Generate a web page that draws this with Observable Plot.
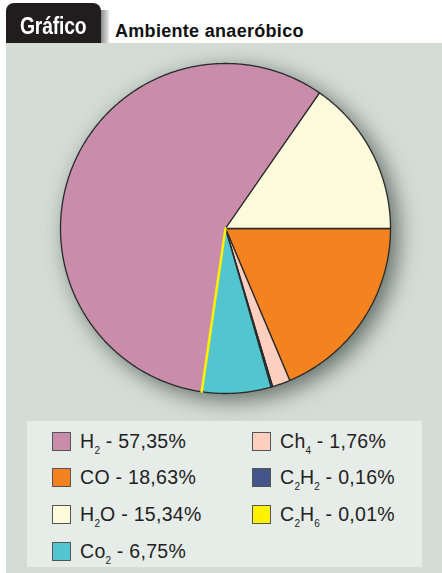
<!DOCTYPE html>
<html>
<head>
<meta charset="utf-8">
<script src="https://cdn.jsdelivr.net/npm/d3@7"></script>
<script src="https://cdn.jsdelivr.net/npm/@observablehq/plot@0.6"></script>
<style>
  html, body { margin: 0; padding: 0; background: #ffffff; }
  #root { position: relative; width: 442px; height: 573px; overflow: hidden; font-family: "Liberation Sans", Arial, Helvetica, sans-serif; }
  #tab { position: absolute; left: 6px; top: 3px; width: 95px; height: 40px; background: #211d1e; border-radius: 8px 8px 0 0; }
  #tabshade { position: absolute; left: 100px; top: 10px; width: 9px; height: 33px; background: linear-gradient(to right, #7d7f7e, #e8ebe9); }
  #tabtext { position: absolute; left: 20px; top: 12px; color: #ffffff; font-weight: bold; font-size: 23px; line-height: 28px; transform: scaleX(0.84); transform-origin: left top; letter-spacing: -0.2px; }
  #title { position: absolute; left: 115px; top: 21px; color: #111; font-weight: bold; font-size: 18px; line-height: 20px; letter-spacing: 0.3px; }
  #panel { position: absolute; left: 6px; top: 43px; width: 436px; height: 530px; background: #d3ddd6; }
  #chart { position: absolute; left: 0; top: 43px; }
  #chart svg { filter: drop-shadow(7px 6px 11px rgba(25,35,30,0.6)); }
  #legend { position: absolute; left: 27px; top: 421px; width: 395px; height: 146px; background: #e6ece8; }
  .item { position: absolute; height: 20px; font-size: 19.5px; line-height: 20px; color: #222; white-space: nowrap; }
  .sw { position: absolute; left: 0; top: 0; width: 17px; height: 17px; border: 1px solid #555; }
  .lbl { position: absolute; left: 28px; top: -1px; letter-spacing: 0.3px; }
  .lbl span.s { font-size: 10px; position: relative; top: 6px; letter-spacing: 0; }
</style>
</head>
<body>
<div id="root">
  <div id="panel"></div>
  <div id="chart"></div>
  <div id="tabshade"></div>
  <div id="tab"></div>
  <div id="tabtext">Gráfico</div>
  <div id="title">Ambiente anaeróbico</div>
  <div id="legend"></div>
</div>
<script>
// Data (slice order clockwise from 3 o'clock)
const names   = ["CO", "Ch4", "C2H2", "Co2", "C2H6", "H2", "H2O"];
const values  = [18.63, 1.76, 0.16, 6.75, 0.01, 57.35, 15.34];
const colors  = ["#f4821f", "#fccfbf", "#44558a", "#52c5cf", "#fff200", "#c98dab", "#fefadc"];
// Legend order and labels (HTML with subscripts)
const legendNames  = ["H2", "CO", "H2O", "Co2", "Ch4", "C2H2", "C2H6"];
const legendLabels = [
  "H<span class='s'>2</span> - 57,35%",
  "CO - 18,63%",
  "H<span class='s'>2</span>O - 15,34%",
  "Co<span class='s'>2</span> - 6,75%",
  "Ch<span class='s'>4</span> - 1,76%",
  "C<span class='s'>2</span>H<span class='s'>2</span> - 0,16%",
  "C<span class='s'>2</span>H<span class='s'>6</span> - 0,01%"
];

const table = names.map((n, i) => ({name: n, value: values[i]}));
const arcs = d3.pie().sort(null).value(d => d.value).startAngle(Math.PI / 2).endAngle(Math.PI / 2 + 2 * Math.PI)(table);

// Build outline points for each slice in unit coordinates
const pts = [];
for (const a of arcs) {
  const n = a.data.name;
  pts.push({name: n, x: 0, y: 0});
  const steps = Math.max(2, Math.ceil((a.endAngle - a.startAngle) / (Math.PI / 360)));
  for (let k = 0; k <= steps; k++) {
    const t = a.startAngle + (a.endAngle - a.startAngle) * k / steps;
    pts.push({name: n, x: Math.sin(t), y: Math.cos(t)});
  }
  pts.push({name: n, x: 0, y: 0});
}

const cx = 225, cy = 185, r = 165;
const plot = Plot.plot({
  width: 442,
  height: 378,
  margin: 0,
  style: {background: "transparent", overflow: "visible"},
  x: {domain: [-1, 1], range: [cx - r, cx + r], axis: null},
  y: {domain: [-1, 1], range: [cy + r, cy - r], axis: null},
  color: {domain: names, range: colors},
  marks: [
    Plot.line(pts.filter(d => d.name !== "C2H6"), {x: "x", y: "y", z: "name", fill: "name", stroke: "#2a2a2a", strokeWidth: 1.3, strokeLinejoin: "round"}),
    Plot.line(pts.filter(d => d.name === "C2H6"), {x: "x", y: "y", z: "name", fill: "name", stroke: "#fff200", strokeWidth: 2.5})
  ]
});
document.getElementById("chart").appendChild(plot);

// Legend
const legend = document.getElementById("legend");
const colX = [25, 225], rowY = [11, 47, 84, 121];
legendNames.forEach((n, i) => {
  const col = i < 4 ? 0 : 1, row = i < 4 ? i : i - 4;
  const it = document.createElement("div");
  it.className = "item";
  it.style.left = colX[col] + "px";
  it.style.top = rowY[row] + "px";
  const sw = document.createElement("div");
  sw.className = "sw";
  sw.style.background = colors[names.indexOf(n)];
  const lb = document.createElement("div");
  lb.className = "lbl";
  lb.innerHTML = legendLabels[i];
  it.appendChild(sw); it.appendChild(lb);
  legend.appendChild(it);
});
</script>
</body>
</html>
